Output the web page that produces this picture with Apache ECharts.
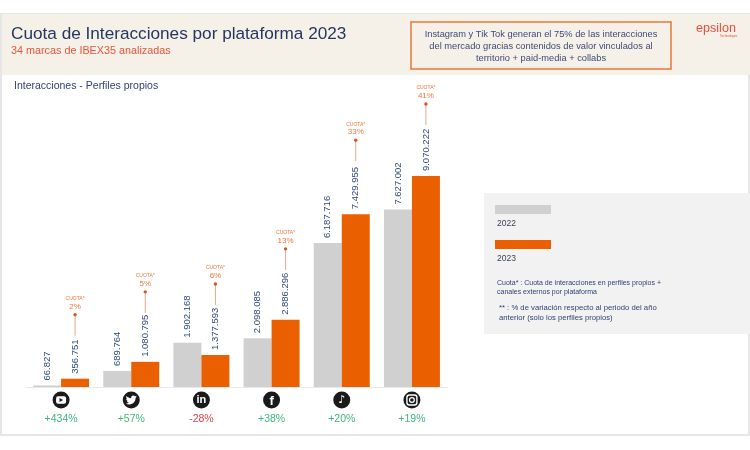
<!DOCTYPE html>
<html>
<head>
    <meta charset="utf-8">
    <title>Cuota de Interacciones por plataforma 2023</title>
    <script src="https://cdn.jsdelivr.net/npm/echarts@6/dist/echarts.min.js"></script>
    <style type="text/css">
        body{
            margin: 0;
            background: #fff;
        }
        #main{
            width: 750px;
            height: 450px;
        }
    </style>
</head>
<body>
<div id="main"></div>
<script>
    var categories = ['YouTube', 'Twitter', 'LinkedIn', 'Facebook', 'TikTok', 'Instagram'];
    var values2022 = [66827, 689764, 1902168, 2098085, 6187716, 7627002];
    var values2023 = [356751, 1080795, 1377593, 2886296, 7429955, 9070222];
    var quota = ['2%', '5%', '6%', '13%', '33%', '41%'];
    var change = ['+434%', '+57%', '-28%', '+38%', '+20%', '+19%'];

    var navy = '#2f4272';
    var font = '"Liberation Sans", Arial, sans-serif';
    // how far the quota dot sits above each orange bar, in px
    var quotaLift = [64, 70, 71, 71, 74, 72];
    var twitterPath = 'M24 4.6 C23.1 5 22.2 5.3 21.2 5.4 C22.2 4.8 23 3.8 23.3 2.6 C22.4 3.2 21.3 3.6 20.2 3.8 C19.3 2.8 18 2.2 16.6 2.2 C13.4 2.2 11.1 5.1 11.8 8.2 C7.7 8 4.1 6.1 1.7 3.2 C0.4 5.4 1 8.3 3.2 9.7 C2.4 9.7 1.6 9.5 0.9 9.1 C0.9 11.5 2.6 13.5 4.9 14 C4.2 14.2 3.4 14.2 2.7 14.1 C3.3 16.1 5.2 17.5 7.3 17.5 C5.3 19.1 2.6 19.9 0 19.6 C2.2 21 4.8 21.8 7.5 21.8 C16.6 21.8 21.8 14.1 21.5 7.2 C22.5 6.5 23.4 5.6 24 4.6 Z';

    function dots(n) {
        return String(n).replace(/\B(?=(\d{3})+$)/g, '.');
    }

    function text(x, y, str, size, color, extra) {
        var style = { x: x, y: y, text: str, font: size + 'px ' + font, fill: color, textVerticalAlign: 'middle' };
        for (var k in extra) style[k] = extra[k];
        return { type: 'text', style: style };
    }

    function rect(x, y, w, h, fill, stroke, lineWidth) {
        return { type: 'rect', shape: { x: x, y: y, width: w, height: h },
            style: { fill: fill, stroke: stroke || null, lineWidth: lineWidth || 0 } };
    }

    function glyph(i, cx, cy) {
        var white = { fill: '#fff' };
        if (i === 0) {
            return [
                { type: 'rect', shape: { x: cx - 5, y: cy - 3.8, width: 10, height: 7.6, r: 2 }, style: white },
                { type: 'polygon', shape: { points: [[cx - 1.6, cy - 2], [cx - 1.6, cy + 2], [cx + 2, cy]] }, style: { fill: '#1a1a1a' } }
            ];
        }
        if (i === 1) {
            return [{ type: 'path', shape: { pathData: twitterPath, layout: 'cover', x: cx - 5.5, y: cy - 4.5, width: 11, height: 9 }, style: white }];
        }
        if (i === 2) {
            return [{ type: 'text', style: { x: cx, y: cy, text: 'in', font: 'bold 11px ' + font, fill: '#fff', align: 'center', verticalAlign: 'middle' } }];
        }
        if (i === 3) {
            return [{ type: 'text', style: { x: cx, y: cy + 1, text: 'f', font: 'bold 13px ' + font, fill: '#fff', align: 'center', verticalAlign: 'middle' } }];
        }
        if (i === 4) {
            return [{ type: 'text', style: { x: cx, y: cy, text: '\u266A', font: 'bold 11px "DejaVu Sans"', fill: '#fff', align: 'center', verticalAlign: 'middle' } }];
        }
        return [
            { type: 'rect', shape: { x: cx - 5, y: cy - 5, width: 10, height: 10, r: 2.5 }, style: { fill: 'none', stroke: '#fff', lineWidth: 1.4 } },
            { type: 'circle', shape: { cx: cx, cy: cy, r: 2.4 }, style: { fill: 'none', stroke: '#fff', lineWidth: 1.2 } }
        ];
    }

    function renderQuota(params, api) {
        var i = api.value(0);
        var top = api.coord([i, api.value(1)]);
        var base = api.coord([i, 0]);
        var x = top[0] + 14;
        var dotY = top[1] - quotaLift[i];
        var cx = base[0];
        var cy = base[1] + 13;
        return {
            type: 'group',
            children: [
                { type: 'line', shape: { x1: x, y1: dotY, x2: x, y2: dotY + 21 }, style: { stroke: '#e6a78b', lineWidth: 1 } },
                { type: 'circle', shape: { cx: x, cy: dotY, r: 1.7 }, style: { fill: '#d2562c' } },
                { type: 'text', style: { x: x, y: dotY - 8, text: quota[i], font: '8px ' + font, fill: '#e8793a', align: 'center', verticalAlign: 'middle' } },
                { type: 'text', style: { x: x, y: dotY - 16, text: 'CUOTA*', font: '5px ' + font, fill: '#e8793a', align: 'center', verticalAlign: 'middle' } },
                { type: 'circle', shape: { cx: cx, cy: cy, r: 8.5 }, style: { fill: '#1a1a1a' } }
            ].concat(glyph(i, cx, cy))
        };
    }

    var valueLabel = {
        show: true,
        position: 'top',
        rotate: 90,
        distance: 5,
        align: 'left',
        verticalAlign: 'middle',
        color: '#2f4a7c',
        fontSize: 9.5,
        fontFamily: font,
        formatter: function (p) { return dots(p.value); }
    };

    var myChart = echarts.init(document.getElementById('main'));
    var option = {
        animation: false,
        backgroundColor: '#fff',
        grid: { left: 26, right: 303, top: 80, bottom: 63 },
        xAxis: {
            type: 'category',
            data: categories,
            axisTick: { show: false },
            axisLine: { lineStyle: { color: '#e8e8e8' } },
            axisLabel: {
                margin: 27,
                interval: 0,
                fontFamily: font,
                fontSize: 10.5,
                formatter: function (v, i) {
                    return (change[i].charAt(0) === '-' ? '{down|' : '{up|') + change[i] + '}';
                },
                rich: {
                    up: { color: '#3fb678', fontSize: 10.5, fontFamily: font },
                    down: { color: '#e8414a', fontSize: 10.5, fontFamily: font }
                }
            }
        },
        yAxis: { type: 'value', min: 0, max: 13200000, show: false, splitLine: { show: false } },
        series: [
            { name: '2022', type: 'bar', data: values2022, barWidth: 28, barGap: 0,
                itemStyle: { color: '#d0d0d0' }, label: valueLabel },
            { name: '2023', type: 'bar', data: values2023, barWidth: 28,
                itemStyle: { color: '#ea5f00' }, label: valueLabel },
            { name: 'cuota', type: 'custom', renderItem: renderQuota, clip: false, silent: true, z: 5,
                data: values2023.map(function (v, i) { return [i, v]; }) }
        ],
        graphic: { elements: [
            rect(1, 14, 748, 421, '#fff', '#e6e6e6', 2),
            rect(2, 14, 748, 61, '#f5f0e8'),
            text(11, 34, 'Cuota de Interacciones por plataforma 2023', 17.2, '#253660'),
            text(11, 51, '34 marcas de IBEX35 analizadas', 10.8, '#e8573a'),
            text(14, 86, 'Interacciones - Perfiles propios', 10.5, navy),
            rect(411, 22, 260, 47, 'transparent', '#e8793a', 1.5),
            text(541, 34, 'Instagram y Tik Tok generan el 75% de las interacciones', 9.3, '#3f4a78', { textAlign: 'center' }),
            text(541, 46, 'del mercado gracias contenidos de valor vinculados al', 9.3, '#3f4a78', { textAlign: 'center' }),
            text(541, 58, 'territorio + paid-media + collabs', 9.3, '#3f4a78', { textAlign: 'center' }),
            text(696, 29, 'epsilon', 12.6, '#e8503a'),
            text(720, 36, 'Technologies', 3, '#e8503a'),
            rect(484, 193, 266, 141, '#f2f2f2'),
            rect(495, 205, 56, 9, '#d0d0d0'),
            text(497, 224, '2022', 8.5, '#3a3f55'),
            rect(495, 240, 56, 9, '#ea5f00'),
            text(497, 259, '2023', 8.5, '#3a3f55'),
            text(497, 283, 'Cuota* : Cuota de interacciones en perfiles propios +', 7, navy),
            text(497, 292, 'canales externos por plataforma', 7, navy),
            text(499, 308, '** : % de variación respecto al periodo del año', 7.7, navy),
            text(499, 318, 'anterior (solo los perfiles propios)', 7.7, navy)
        ] }
    };
    myChart.setOption(option);
</script>
</body>
</html>
